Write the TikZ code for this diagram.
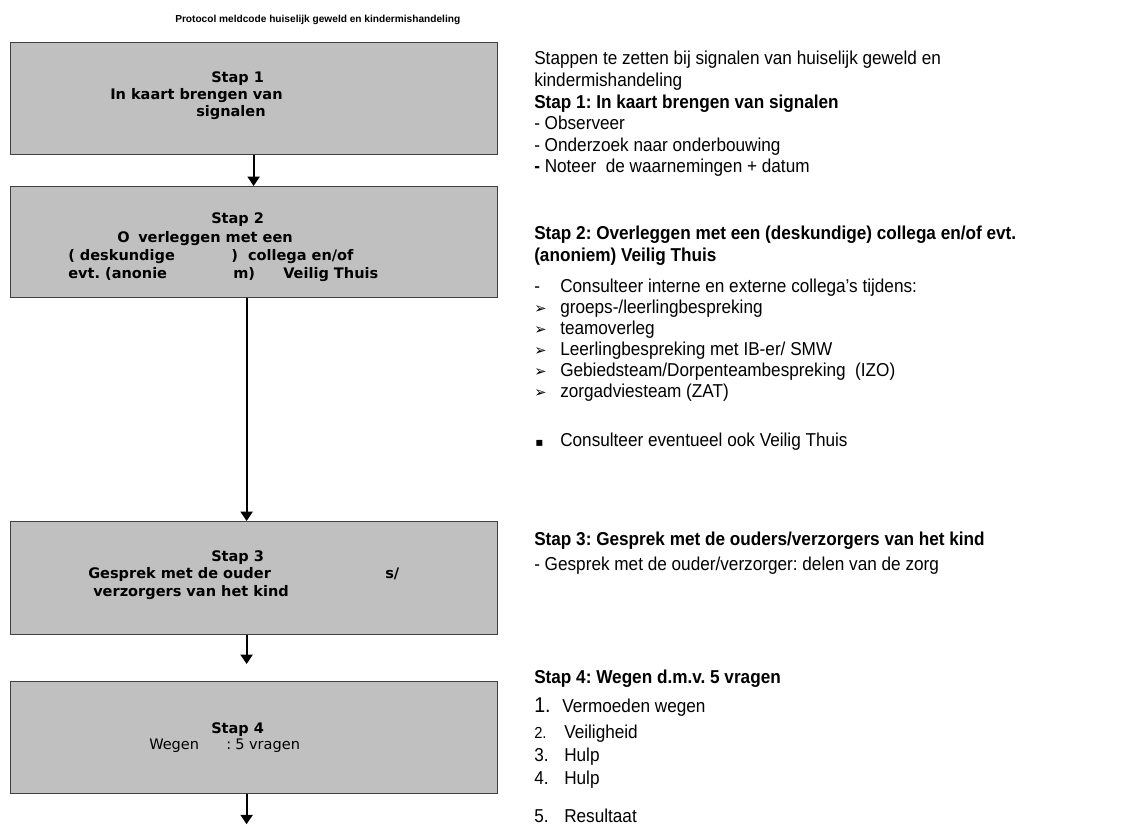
\documentclass[tikz,border=0pt]{standalone}
\usepackage{fontspec}
\setmainfont{Liberation Sans}
\newfontfamily\verd{DejaVu Sans}
\newfontfamily\sym{DejaVu Sans}
\newfontfamily\rfont[FakeStretch=0.92]{Liberation Sans}
\usetikzlibrary{arrows.meta}
\definecolor{boxgray}{RGB}{192,192,192}
\definecolor{boxline}{RGB}{64,64,64}
\begin{document}
\frenchspacing
\begin{tikzpicture}[x=0.75pt,y=-0.75pt,
  stepbox/.style={draw=boxline,fill=boxgray,line width=0.9pt,minimum width=365.25pt,inner sep=0pt,anchor=north west},
  bt/.style={anchor=base west,inner sep=0pt,font=\verd\fontsize{10.9pt}{13pt}\selectfont\bfseries},
  btn/.style={anchor=base west,inner sep=0pt,font=\verd\fontsize{10.9pt}{13pt}\selectfont},
  rt/.style={anchor=base west,inner sep=0pt,font=\rfont\fontsize{14pt}{16pt}\selectfont},
  rb/.style={anchor=base west,inner sep=0pt,font=\rfont\fontsize{14pt}{16pt}\selectfont\bfseries},
  bul/.style={anchor=base west,inner sep=0pt,font=\sym\fontsize{11pt}{12pt}\selectfont},
  ttl/.style={anchor=base west,inner sep=0pt,font=\fontsize{7.6pt}{9pt}\selectfont\bfseries},
  arr/.style={line width=1.4pt,-{Triangle[width=9pt,length=7pt]}}]
\useasboundingbox (0,0) rectangle (1146,825);
\begin{scope}
\clip (0,0) rectangle (1146,825);
% title
\node[ttl] (title) at (175,22) {Protocol meldcode huiselijk geweld en kindermishandeling};
% boxes
\node[stepbox,minimum height=84pt] (b1) at (10,42) {};
\node[stepbox,minimum height=83.25pt] (b2) at (10,186) {};
\node[stepbox,minimum height=84.75pt] (b3) at (10,521) {};
\node[stepbox,minimum height=84pt] (b4) at (10,681) {};
% box texts
\node[bt] (t1a) at (211,82) {Stap 1};
\node[bt] (t1b) at (110,99) {In kaart brengen van};
\node[bt] (t1c) at (196,116) {signalen};
\node[bt] (t2a) at (211,223) {Stap 2};
\node[bt] (t2b) at (117,242) {O};
\node[bt] (t2c) at (138,242) {verleggen met een};
\node[bt] (t2d) at (68,260) {( deskundige};
\node[bt] (t2e) at (231,260) {)\ \ collega en/of};
\node[bt] (t2f) at (68,278) {evt. (anonie};
\node[bt] (t2g) at (233,278) {m)};
\node[bt] (t2h) at (283,278) {Veilig Thuis};
\node[bt] (t3a) at (211,561) {Stap 3};
\node[bt] (t3b) at (88,578) {Gesprek met de ouder};
\node[bt] (t3c) at (385,578) {s/};
\node[bt] (t3d) at (93,596) {verzorgers van het kind};
\node[bt] (t4a) at (211,733) {Stap 4};
\node[btn] (t4b) at (149,749) {Wegen};
\node[btn] (t4c) at (226,749) {:};
\node[btn] (t4d) at (235,749) {5 vragen};
% connectors
\coordinate (end) at ([xshift=-5.625pt,yshift=-22.5pt]b4.south);
\draw[arr] ([xshift=-0.375pt]b1.south) -- ([xshift=-0.375pt]b2.north);
\draw[arr] ([xshift=-5.625pt]b2.south) -- ([xshift=-5.625pt]b3.north);
\draw[arr] ([xshift=-5.625pt]b3.south) -- ([xshift=-5.625pt,yshift=12.75pt]b4.north);
\draw[arr] ([xshift=-5.625pt]b4.south) -- (end);
% right text
\node[rt] (r1) at (534,64) {Stappen te zetten bij signalen van huiselijk geweld en};
\node[rt] (r2) at (534,86) {kindermishandeling};
\node[rb] (r3) at (534,108) {Stap 1: In kaart brengen van signalen};
\node[rt] (r4) at (534,129) {- Observeer};
\node[rt] (r5) at (534,151) {- Onderzoek naar onderbouwing};
\node[rt] (r6) at (534,172) {\textbf{-} Noteer\ \ de waarnemingen + datum};
\node[rb] (r7) at (534,239) {Stap 2: Overleggen met een (deskundige) collega en/of evt.};
\node[rb] (r8) at (534,261) {(anoniem) Veilig Thuis};
\node[rt] (r9a) at (534,292) {-};
\node[rt] (r9) at (560,292) {Consulteer interne en externe collega’s tijdens:};
\node[bul] (r10a) at (534,313) {➢};
\node[rt] (r10) at (560,313) {groeps-/leerlingbespreking};
\node[bul] (r11a) at (534,334) {➢};
\node[rt] (r11) at (560,334) {teamoverleg};
\node[bul] (r12a) at (534,355) {➢};
\node[rt] (r12) at (560,355) {Leerlingbespreking met IB-er/ SMW};
\node[bul] (r13a) at (534,376) {➢};
\node[rt] (r13) at (560,376) {Gebiedsteam/Dorpenteambespreking\ \ (IZO)};
\node[bul] (r14a) at (534,397) {➢};
\node[rt] (r14) at (560,397) {zorgadviesteam (ZAT)};
\node[bul] (r15a) at (535,446) {\fontsize{9pt}{10pt}\selectfont ▪};
\node[rt] (r15) at (560,446) {Consulteer eventueel ook Veilig Thuis};
\node[rb] (r16) at (534,545) {Stap 3: Gesprek met de ouders/verzorgers van het kind};
\node[rt] (r17) at (534,570) {- Gesprek met de ouder/verzorger: delen van de zorg};
\node[rb] (r18) at (534,683) {Stap 4: Wegen d.m.v. 5 vragen};
\node[rt] (r19a) at (534,712) {\fontsize{16pt}{17pt}\selectfont 1.};
\node[rt] (r19) at (562,712) {Vermoeden wegen};
\node[rt] (r20a) at (534,738) {\fontsize{12pt}{13pt}\selectfont 2.};
\node[rt] (r20) at (564,738) {Veiligheid};
\node[rt] (r21a) at (534,761) {3.};
\node[rt] (r21) at (564,761) {Hulp};
\node[rt] (r22a) at (534,784) {4.};
\node[rt] (r22) at (564,784) {Hulp};
\node[rt] (r23a) at (534,822) {5.};
\node[rt] (r23) at (564,822) {Resultaat};
\end{scope}
\end{tikzpicture}
\end{document}
